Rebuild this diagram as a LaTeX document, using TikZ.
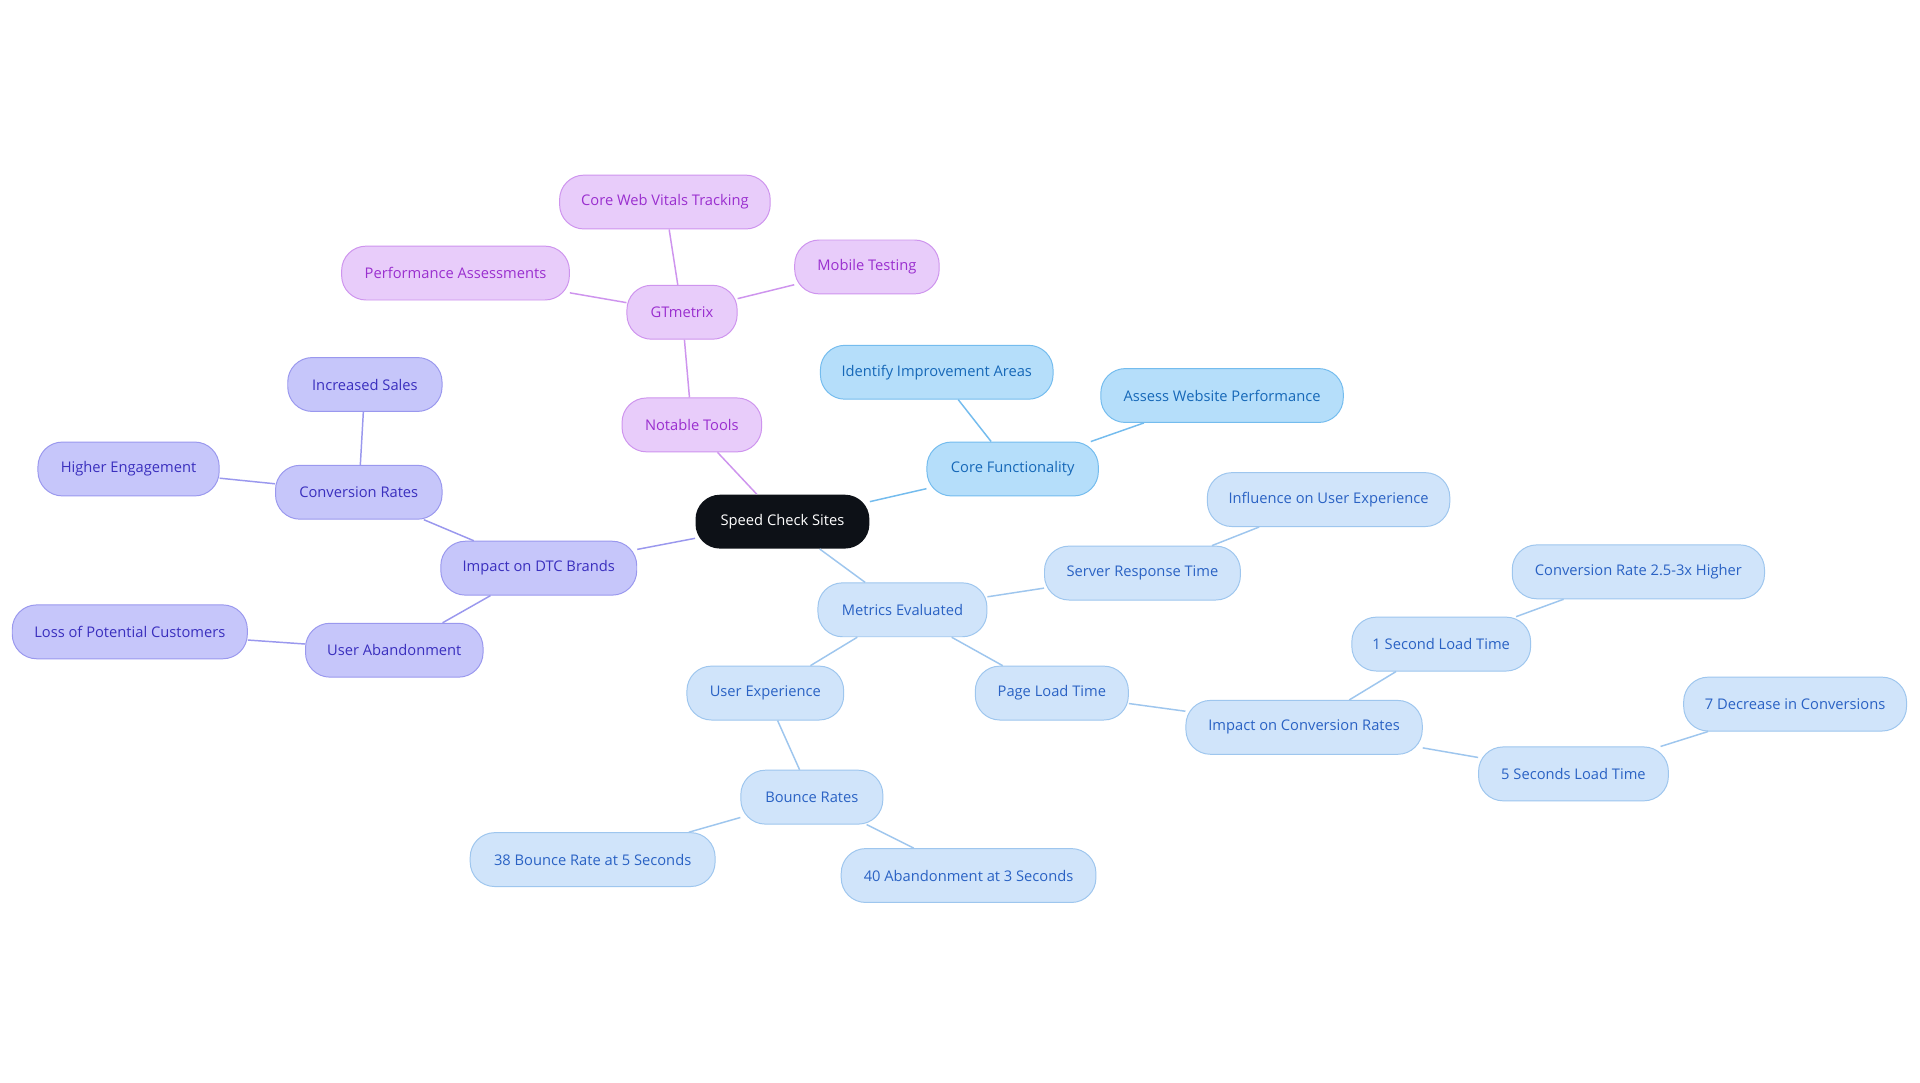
\documentclass[tikz,border=0pt]{standalone}
\usepackage{fontspec}
\setmainfont{Open Sans}
\begin{document}
\begin{tikzpicture}[x=1pt,y=-1pt,
 base/.style={rounded corners=20pt,minimum height=44pt,inner sep=0pt,line width=0.8pt,font=\fontsize{12}{14}\selectfont},
 pur/.style={base,fill=pf,draw=pd,text=pt},
 cbl/.style={base,fill=bf,draw=bd,text=bt},
 lbl/.style={base,fill=lf,draw=ld,text=lt},
 ind/.style={base,fill=inf,draw=ind,text=int},
 pe/.style={draw=pd,line width=1.2pt},
 be/.style={draw=bd,line width=1.2pt},
 le/.style={draw=ld,line width=1.2pt},
 ie/.style={draw=ind,line width=1.2pt}]
\definecolor{pf}{HTML}{E8CCFA}\definecolor{pd}{HTML}{CE94EE}\definecolor{pt}{HTML}{9A2FCF}
\definecolor{bf}{HTML}{B5DEFA}\definecolor{bd}{HTML}{74BCEE}\definecolor{bt}{HTML}{1668B8}
\definecolor{lf}{HTML}{D0E4FA}\definecolor{ld}{HTML}{9EC6EE}\definecolor{lt}{HTML}{2A62C4}
\definecolor{inf}{HTML}{C6C6FA}\definecolor{ind}{HTML}{9A98EE}\definecolor{int}{HTML}{3A2FBE}
\useasboundingbox[fill=white] (0,0) rectangle (1568,884);
\node[base,fill={rgb,255:red,13;green,17;blue,23},text=white,minimum width=142pt] (c) at (639,426) {Speed Check Sites};
\node[pur,minimum width=114pt] (nt) at (565,347) {Notable Tools};
\node[pur,minimum width=90pt] (gt) at (557,255) {GTmetrix};
\node[pur,minimum width=172pt] (cw) at (543,165) {Core Web Vitals Tracking};
\node[pur,minimum width=186pt] (pa) at (372,223) {Performance Assessments};
\node[pur,minimum width=118pt] (mt) at (708,218) {Mobile Testing};
\node[cbl,minimum width=140pt] (cf) at (827,383) {Core Functionality};
\node[cbl,minimum width=190pt] (ii) at (765,304) {Identify Improvement Areas};
\node[cbl,minimum width=198pt] (aw) at (998,323) {Assess Website Performance};
\node[lbl,minimum width=138pt] (me) at (737,498) {Metrics Evaluated};
\node[lbl,minimum width=160pt] (sr) at (933,468) {Server Response Time};
\node[lbl,minimum width=198pt] (iu) at (1085,408) {Influence on User Experience};
\node[lbl,minimum width=125pt] (pl) at (859,566) {Page Load Time};
\node[lbl,minimum width=193pt] (ic) at (1065,594) {Impact on Conversion Rates};
\node[lbl,minimum width=146pt] (s1) at (1177,526) {1 Second Load Time};
\node[lbl,minimum width=206pt] (cr) at (1338,467) {Conversion Rate 2.5-3x Higher};
\node[lbl,minimum width=155pt] (s5) at (1285,632) {5 Seconds Load Time};
\node[lbl,minimum width=182pt] (dc) at (1466,575) {7 Decrease in Conversions};
\node[lbl,minimum width=128pt] (ue) at (625,566) {User Experience};
\node[lbl,minimum width=116pt] (br) at (663,651) {Bounce Rates};
\node[lbl,minimum width=200pt] (b38) at (484,702) {38 Bounce Rate at 5 Seconds};
\node[lbl,minimum width=208pt] (a40) at (791,715) {40 Abandonment at 3 Seconds};
\node[ind,minimum width=160pt] (dtc) at (440,464) {Impact on DTC Brands};
\node[ind,minimum width=136pt] (cv) at (293,402) {Conversion Rates};
\node[ind,minimum width=126pt] (is) at (298,314) {Increased Sales};
\node[ind,minimum width=148pt] (he) at (105,383) {Higher Engagement};
\node[ind,minimum width=145pt] (ua) at (322,531) {User Abandonment};
\node[ind,minimum width=192pt] (lp) at (106,516) {Loss of Potential Customers};
\begin{scope}[on background layer/.style={}]
\end{scope}
\begin{pgfonlayer}{main}\end{pgfonlayer}
\path[pe] (c) -- (nt) (nt) -- (gt) (gt) -- (cw) (gt) -- (pa) (gt) -- (mt);
\path[be] (c) -- (cf) (cf) -- (ii) (cf) -- (aw);
\path[le] (c) -- (me) (me) -- (sr) (sr) -- (iu) (me) -- (pl) (pl) -- (ic) (ic) -- (s1) (s1) -- (cr) (ic) -- (s5) (s5) -- (dc) (me) -- (ue) (ue) -- (br) (br) -- (b38) (br) -- (a40);
\path[ie] (c) -- (dtc) (dtc) -- (cv) (cv) -- (is) (cv) -- (he) (dtc) -- (ua) (ua) -- (lp);
\end{tikzpicture}
\end{document}
